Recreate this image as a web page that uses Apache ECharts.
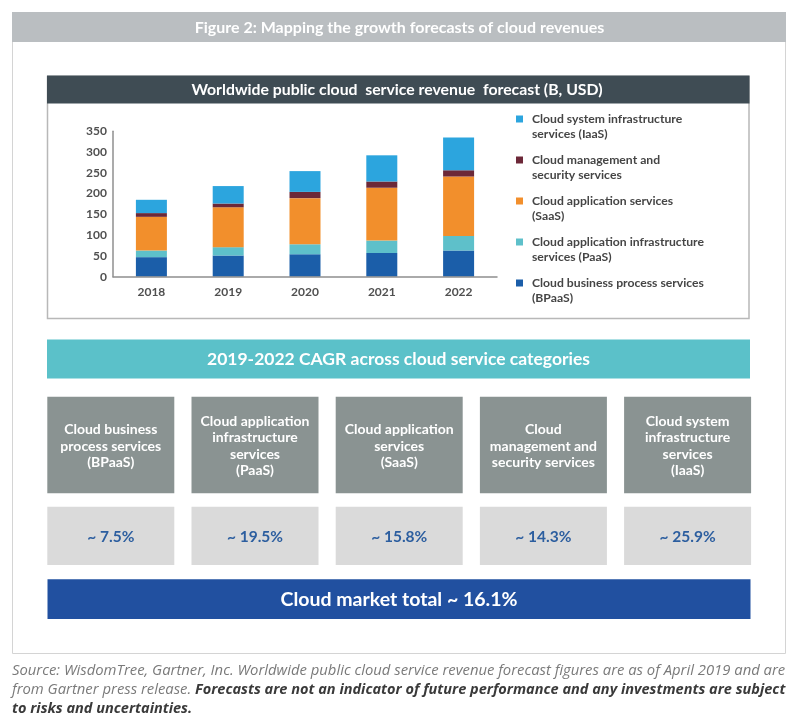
<!DOCTYPE html>
<html><head><meta charset="utf-8">
<script src="https://cdn.jsdelivr.net/npm/echarts@6/dist/echarts.min.js"></script>
<style>html,body{margin:0;padding:0;background:#fff}#c{width:797px;height:721px}</style>
</head><body><div id="c"></div>
<script>
// ---- data ----
const years = ['2018', '2019', '2020', '2021', '2022'];
const bpaas = [47, 51, 54, 57, 63];
const paas = [16, 20, 24, 30, 35];
const saas = [81, 96, 111, 127, 143];
const mgmt = [9, 9, 15, 15, 15];
const iaas = [32, 42, 50, 63, 79];
const yMin = 0, yMax = 350, yStep = 50;

const seriesNames = [
  'Cloud business process services\n(BPaaS)',
  'Cloud application infrastructure\nservices (PaaS)',
  'Cloud application services\n(SaaS)',
  'Cloud management and\nsecurity services',
  'Cloud system infrastructure\nservices (IaaS)'
];
const seriesColors = ['#1b5ea9', '#5ec0ca', '#f28f2c', '#6c2838', '#2ca5de'];

const cagrCategories = [
  'Cloud business\nprocess services\n(BPaaS)',
  'Cloud application\ninfrastructure\nservices\n(PaaS)',
  'Cloud application\nservices\n(SaaS)',
  'Cloud\nmanagement and\nsecurity services',
  'Cloud system\ninfrastructure\nservices\n(IaaS)'
];
const cagrValues = ['~ 7.5%', '~ 19.5%', '~ 15.8%', '~ 14.3%', '~ 25.9%'];
const totalLabel = 'Cloud market total ~ 16.1%';

const figTitle = 'Figure 2: Mapping the growth forecasts of cloud revenues';
const chartTitle = 'Worldwide public cloud  service revenue  forecast (B, USD)';
const cagrTitle = '2019-2022 CAGR across cloud service categories';
const source1 = 'Source: WisdomTree, Gartner, Inc. Worldwide public cloud service revenue forecast figures are as of April 2019 and are';
const source2a = 'from Gartner press release. ';
const source2b = 'Forecasts are not an indicator of future performance and any investments are subject';
const source3 = 'to risks and uncertainties.';

// ---- chart ----
const F = 'Lato, "Open Sans", sans-serif';
const SF = '"Open Sans", Lato, sans-serif';
// fit the source note to the frame width
const cv = document.createElement('canvas').getContext('2d');
cv.font = 'italic 13px ' + SF;
const srcSize = Math.min(15, 13 * 774 / cv.measureText(source1).width);
cv.font = 'italic ' + srcSize + 'px ' + SF;
const w2a = cv.measureText(source2a).width;
cv.font = 'italic bold 13px ' + SF;
const boldSize = Math.min(srcSize, 13 * (774 - w2a) / cv.measureText(source2b).width);

const chart = echarts.init(document.getElementById('c'), null, {renderer: 'canvas'});

const graphics = [];
// outer frame
graphics.push({type: 'rect', z: 0, shape: {x: 12.5, y: 12.5, width: 773, height: 641}, style: {fill: '#fff', stroke: '#d4d4d4', lineWidth: 1}});
graphics.push({type: 'rect', z: 1, shape: {x: 12, y: 12, width: 774, height: 30}, style: {fill: '#babec1'}});
graphics.push({type: 'text', z: 2, x: 399.5, y: 27.5, style: {text: figTitle, fill: '#fff', font: 'bold 16px ' + F, align: 'center', verticalAlign: 'middle'}});
// chart panel
graphics.push({type: 'rect', z: 1, shape: {x: 47.5, y: 76.5, width: 701.5, height: 242}, style: {fill: '#fff', stroke: '#b8b8b8', lineWidth: 1.5}});
graphics.push({type: 'rect', z: 1, shape: {x: 47, y: 75.5, width: 702.5, height: 28}, style: {fill: '#3f4c54'}});
graphics.push({type: 'text', z: 2, x: 397, y: 89.5, style: {text: chartTitle, fill: '#fff', font: 'bold 15.8px ' + F, align: 'center', verticalAlign: 'middle'}});
// CAGR banner
graphics.push({type: 'rect', z: 1, shape: {x: 47, y: 339.5, width: 703, height: 39}, style: {fill: '#5bc1c9'}});
graphics.push({type: 'text', z: 2, x: 398.5, y: 359, style: {text: cagrTitle, fill: '#fff', font: 'bold 17.5px ' + F, align: 'center', verticalAlign: 'middle'}});
// category boxes
for (let i = 0; i < cagrCategories.length; i++) {
  const x = 47.3 + i * 144.2;
  graphics.push({type: 'rect', z: 1, shape: {x: x, y: 396.7, width: 127, height: 96.6}, style: {fill: '#8a9392'}});
  graphics.push({type: 'text', z: 2, x: x + 63.5, y: 446, style: {text: cagrCategories[i], fill: '#fff', font: 'bold 14px ' + F, lineHeight: 16.6, align: 'center', verticalAlign: 'middle'}});
  graphics.push({type: 'rect', z: 1, shape: {x: x, y: 506.7, width: 127, height: 58.3}, style: {fill: '#dadada'}});
  graphics.push({type: 'text', z: 2, x: x + 63.5, y: 537, style: {text: cagrValues[i], fill: '#2c5e9f', font: 'bold 15.5px ' + F, align: 'center', verticalAlign: 'middle'}});
}
// total banner
graphics.push({type: 'rect', z: 1, shape: {x: 47.5, y: 579.3, width: 703, height: 39.7}, style: {fill: '#2150a0'}});
graphics.push({type: 'text', z: 2, x: 399, y: 600, style: {text: totalLabel, fill: '#fff', font: 'bold 19.5px ' + F, align: 'center', verticalAlign: 'middle'}});
// source
graphics.push({type: 'text', z: 2, x: 12, y: 671, style: {text: source1, fill: '#7a7a7a', font: 'italic ' + srcSize + 'px ' + SF, align: 'left', verticalAlign: 'middle'}});
graphics.push({type: 'text', z: 2, x: 12, y: 690, style: {
  text: '{r|' + source2a + '}{b|' + source2b + '}',
  rich: {r: {fill: '#7a7a7a', font: 'italic ' + srcSize + 'px ' + SF}, b: {fill: '#3a3a3a', font: 'italic bold ' + boldSize + 'px ' + SF}},
  align: 'left', verticalAlign: 'middle'}});
graphics.push({type: 'text', z: 2, x: 12, y: 709, style: {text: source3, fill: '#3a3a3a', font: 'italic bold ' + boldSize + 'px ' + SF, align: 'left', verticalAlign: 'middle'}});

const dataArrays = [bpaas, paas, saas, mgmt, iaas];
const series = dataArrays.map((d, i) => ({
  name: seriesNames[i], type: 'bar', stack: 'total', data: d, barWidth: 31,
  itemStyle: {color: seriesColors[i]}, emphasis: {disabled: true}, z: 5
}));

chart.setOption({
  animation: false,
  backgroundColor: '#fff',
  graphic: {elements: graphics},
  grid: {left: 113, top: 131.2, width: 384, height: 145.5, containLabel: false},
  legend: {
    orient: 'vertical', left: 516, top: 96.5, padding: 0, z: 10,
    itemWidth: 7, itemHeight: 7, itemGap: -4, icon: 'rect', selectedMode: false,
    data: seriesNames.slice().reverse(),
    formatter: n => '\n' + n,
    textStyle: {fontFamily: F, fontWeight: 'bold', fontSize: 12.2, color: '#454545', lineHeight: 15, padding: [0, 0, 0, 4]}
  },
  xAxis: {
    type: 'category', data: years, z: 10,
    axisLine: {lineStyle: {color: '#8f8f8f', width: 1.5}},
    axisTick: {show: false},
    axisLabel: {fontFamily: F, fontWeight: 'bold', fontSize: 12, color: '#505050', margin: 9}
  },
  yAxis: {
    type: 'value', min: yMin, max: yMax, interval: yStep, z: 10,
    axisLine: {show: true, lineStyle: {color: '#8f8f8f', width: 1.5}},
    axisTick: {show: false},
    splitLine: {show: false},
    axisLabel: {fontFamily: F, fontWeight: 'bold', fontSize: 12, color: '#505050', margin: 6}
  },
  series: series
});
</script>
</body></html>
